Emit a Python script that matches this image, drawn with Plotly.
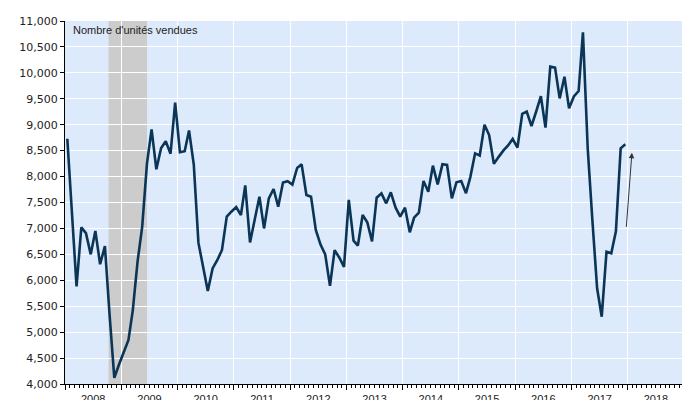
import pandas as pd
import plotly.graph_objects as go

# Monthly units sold, Jan 2008 - Dec 2017
units_sold = [
    8730, 7300, 5880, 7020, 6910, 6500, 6950, 6310, 6660, 5350, 4120, 4370,   # 2008
    4600, 4850, 5420, 6360, 7030, 8250, 8910, 8140, 8550, 8680, 8440, 9425,   # 2009
    8470, 8490, 8890, 8230, 6725, 6263, 5793, 6230, 6391, 6584, 7227, 7323,   # 2010
    7410, 7259, 7830, 6730, 7163, 7610, 7000, 7580, 7760, 7420, 7885, 7910,   # 2011
    7845, 8165, 8236, 7645, 7612, 6970, 6693, 6500, 5893, 6580, 6436, 6260,   # 2012
    7550, 6765, 6670, 7259, 7120, 6750, 7593, 7677, 7484, 7696, 7400, 7227,   # 2013
    7400, 6925, 7208, 7304, 7915, 7709, 8210, 7850, 8236, 8223, 7580, 7889,   # 2014
    7915, 7680, 7990, 8448, 8405, 9000, 8800, 8245, 8380, 8500, 8600, 8725,   # 2015
    8557, 9210, 9255, 8975, 9250, 9550, 8945, 10119, 10100, 9508, 9925, 9315, # 2016
    9545, 9650, 10780, 8544, 7170, 5845, 5298, 6552, 6520, 6945, 8544, 8622,  # 2017
]
months = [pd.Timestamp(2008, 1, 1) + pd.DateOffset(months=i) + pd.Timedelta(days=15)
          for i in range(len(units_sold))]

recession_start = "2008-10-10"
recession_end = "2009-06-16"

arrow_tail = ("2017-12-22", 7000)
arrow_head = ("2018-01-28", 8460)

y_ticks = list(range(4000, 11001, 500))
title_text = "Nombre d'unités vendues"

fig = go.Figure()
fig.add_trace(go.Scatter(
    x=months, y=units_sold, mode="lines",
    line=dict(color="#0A3556", width=2.6),
    hoverinfo="skip", showlegend=False,
))

fig.add_shape(type="rect", xref="x", yref="paper",
              x0=recession_start, x1=recession_end, y0=0, y1=1,
              fillcolor="#CCCCCC", line=dict(width=0), layer="below")

fig.add_annotation(
    x=arrow_head[0], y=arrow_head[1], ax=arrow_tail[0], ay=arrow_tail[1],
    xref="x", yref="y", axref="x", ayref="y",
    showarrow=True, arrowhead=2, arrowsize=1.1, arrowwidth=1,
    arrowcolor="#333333", text="",
)

fig.add_annotation(
    x=0, y=1, xref="paper", yref="paper", xanchor="left", yanchor="top",
    xshift=6, yshift=-1, showarrow=False, text=title_text,
    font=dict(family="Liberation Sans, Arial", size=11, color="#222222"),
)

# page body has an 8px default margin, so the figure is sized to fit the window
fig.update_layout(
    width=682, height=392,
    margin=dict(l=57, r=6, t=13, b=16),
    paper_bgcolor="white", plot_bgcolor="#DDEAFB",
    showlegend=False,
)

fig.update_xaxes(
    type="date", range=["2008-01-01", "2019-01-01"],
    dtick="M12", tick0="2008-01-01", tickformat="%Y", ticklabelmode="period",
    ticks="outside", ticklen=5, tickcolor="black", tickwidth=1,
    showline=True, linecolor="black", linewidth=1,
    showgrid=True, gridcolor="white", gridwidth=1,
    minor=dict(dtick="M1", tick0="2008-01-01", ticks="outside", ticklen=3,
               tickcolor="black", showgrid=False),
    tickfont=dict(family="Liberation Sans, Arial", size=11, color="#222222"),
    automargin=False, zeroline=False, fixedrange=True,
)
fig.update_yaxes(
    range=[4000, 11000], tickvals=y_ticks, tickformat=",d",
    ticks="outside", ticklen=4, tickcolor="black", tickwidth=1,
    showline=True, linecolor="black", linewidth=1,
    showgrid=True, gridcolor="white", gridwidth=1,
    tickfont=dict(family="DejaVu Sans, Verdana", size=11, color="#222222"),
    automargin=False, zeroline=False, fixedrange=True,
)

fig.write_html("out.html")
